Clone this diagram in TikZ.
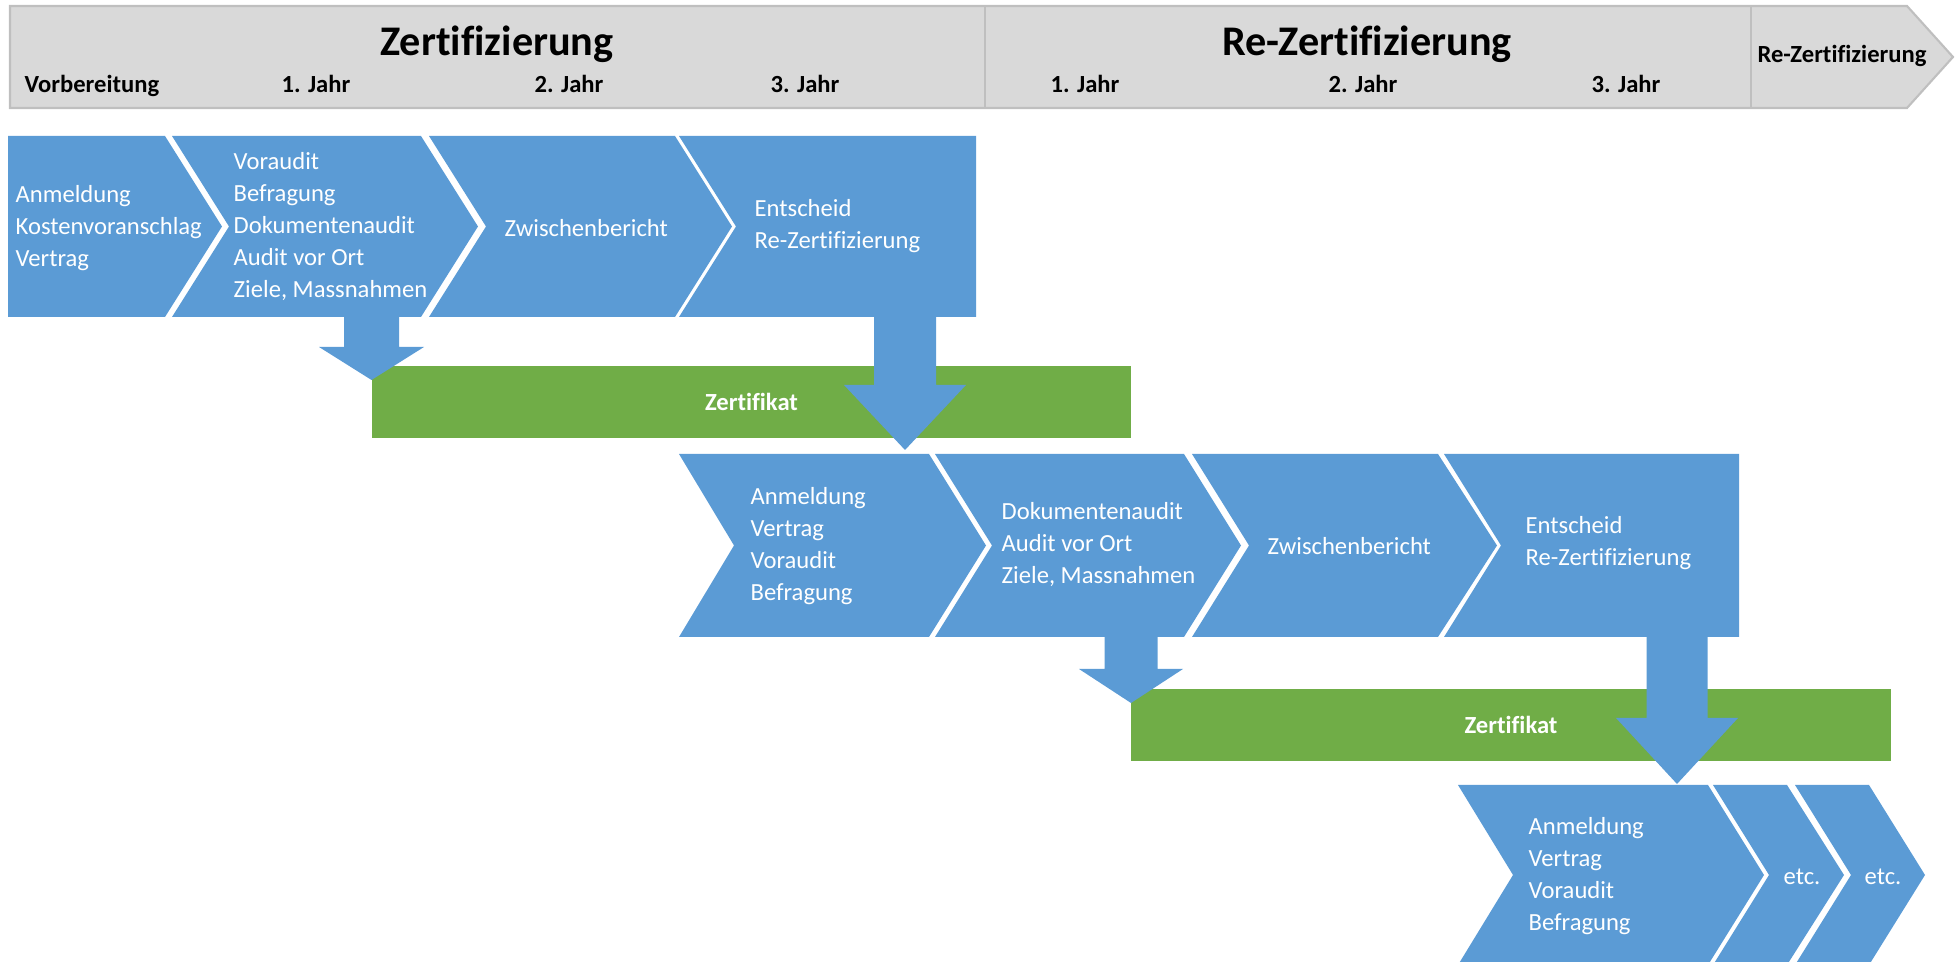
\documentclass[tikz,border=0pt]{standalone}
\usepackage{fontspec}
\setmainfont{Carlito}[Ligatures=NoCommon]
\usetikzlibrary{calc}
\definecolor{stepblue}{HTML}{5B9BD5}
\definecolor{certgreen}{HTML}{70AD47}
\definecolor{bandgray}{HTML}{D9D9D9}
\definecolor{bandline}{HTML}{BFBFBF}
\tikzstyle{every node}=[inner sep=0pt]
\tikzstyle{steptext}=[anchor=west, align=left, text=white, font=\fontsize{7}{9.1}\selectfont]
\tikzstyle{phase}=[anchor=base, font=\fontsize{12}{14}\selectfont\bfseries]
\tikzstyle{period}=[anchor=base, font=\fontsize{7}{9}\selectfont\bfseries]
\tikzstyle{certbar}=[fill=certgreen, text=white, minimum height=0.72cm, font=\fontsize{7}{9}\selectfont\bfseries]
\newcommand{\chev}[7]{%
  \fill[stepblue] (#2,#4) -- (#3,#4) -- ({#3+#7},{(#4+#5)/2}) -- (#3,#5) -- (#2,#5) -- ({#2+#6},{(#4+#5)/2}) -- cycle;
  \coordinate (#1) at ({#2},{(#4+#5)/2});}
\newcommand{\blockarrow}[5]{%
  \fill[stepblue] ($(#1)+(-#3,0)$) -- ($(#1)+(#3,0)$) -- ($(#2)+(#3,-#5)$) -- ($(#2)+(#4,-#5)$) -- (#2)
    -- ($(#2)+(-#4,-#5)$) -- ($(#2)+(-#3,-#5)$) -- cycle;}

\begin{document}
\begin{tikzpicture}[x=0.01cm, y=-0.01cm]
  \useasboundingbox (0,0) rectangle (1957,962);
  \filldraw[fill=bandgray, draw=bandline, line width=0.6pt]
    (10,6) -- (1907,6) -- (1953,57) -- (1907,108) -- (10,108) -- cycle;
  \draw[bandline, line width=0.6pt] (985,6) -- (985,108) (1751,6) -- (1751,108);
  \node[phase] (cert) at (497,56) {Zertifizierung};
  \node[phase] (recert) at (1367,56) {Re-Zertifizierung};
  \node[period, anchor=base west] (prep) at (24,93) {Vorbereitung};
  \node[period] (cy1) at (316,93) {1. Jahr};
  \node[period] (cy2) at (569,93) {2. Jahr};
  \node[period] (cy3) at (805,93) {3. Jahr};
  \node[period] (ry1) at (1085,93) {1. Jahr};
  \node[period] (ry2) at (1363,93) {2. Jahr};
  \node[period] (ry3) at (1626,93) {3. Jahr};
  \node[period] (next) at (1842,63) {Re-Zertifizierung};

  \chev{s11}{8}{165}{136}{317}{0}{57}
  \chev{s12}{172}{421}{136}{317}{57}{57}
  \chev{s13}{429}{675}{136}{317}{57}{57}
  \chev{s14}{679}{976}{136}{317}{57}{0}
  \chev{s21}{679}{929}{454}{637}{55}{57}
  \chev{s22}{935}{1184}{454}{637}{57}{57}
  \chev{s23}{1192}{1438}{454}{637}{57}{59}
  \chev{s24}{1444}{1739}{454}{637}{57}{0}
  \chev{s31}{1458}{1708}{785}{965}{55}{56}
  \chev{s32}{1713}{1787}{785}{965}{56}{57}
  \chev{s33}{1795}{1869}{785}{965}{56}{56}

  \node[certbar, minimum width=7.59cm] (cert1) at (751.5,402) {Zertifikat};
  \node[certbar, minimum width=7.60cm] (cert2) at (1511,725) {Zertifikat};

  \coordinate (a1s) at (371.5,317);
  \coordinate (a1e) at (371.5,380);
  \coordinate (a2s) at (905,317);
  \coordinate (a2e) at (905,450);
  \coordinate (a3s) at (1131,637);
  \coordinate (a3e) at (1131,703);
  \coordinate (a4s) at (1677,637);
  \coordinate (a4e) at (1677,784);
  \blockarrow{a1s}{a1e}{27.5}{52.5}{33}
  \blockarrow{a2s}{a2e}{31}{61}{65}
  \blockarrow{a3s}{a3e}{26.5}{52}{34}
  \blockarrow{a4s}{a4e}{30.5}{61}{66}

  \node[steptext] (t11) at (15,228) {Anmeldung\\Kostenvoranschlag\\Vertrag};
  \node[steptext] (t12) at (233,227) {Voraudit\\Befragung\\Dokumentenaudit\\Audit vor Ort\\Ziele, Massnahmen};
  \node[steptext] (t13) at (504,228) {Zwischenbericht};
  \node[steptext] (t14) at (754,226) {Entscheid\\Re-Zertifizierung};
  \node[steptext] (t21) at (750,546) {Anmeldung\\Vertrag\\Voraudit\\Befragung};
  \node[steptext] (t22) at (1001,545) {Dokumentenaudit\\Audit vor Ort\\Ziele, Massnahmen};
  \node[steptext] (t23) at (1267,546) {Zwischenbericht};
  \node[steptext] (t24) at (1525,543) {Entscheid\\Re-Zertifizierung};
  \node[steptext] (t31) at (1528,876) {Anmeldung\\Vertrag\\Voraudit\\Befragung};
  \node[steptext] (t32) at (1783,877) {etc.};
  \node[steptext] (t33) at (1864,877) {etc.};
\end{tikzpicture}
\end{document}
